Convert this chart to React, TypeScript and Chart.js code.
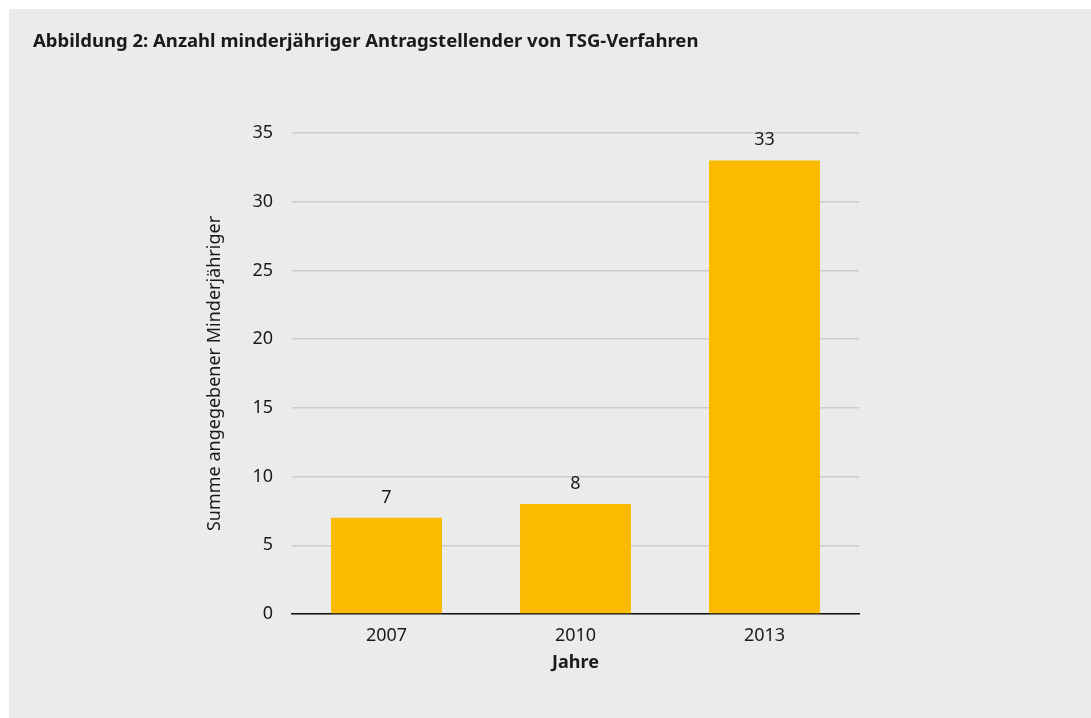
import React, { useEffect, useRef } from "react";
import { Chart, registerables } from "chart.js";

Chart.register(...registerables);

const TITLE = "Abbildung 2: Anzahl minderjähriger Antragstellender von TSG-Verfahren";
const Y_TITLE = "Summe angegebener Minderjähriger";
const X_TITLE = "Jahre";
const categories = ["2007", "2010", "2013"];
const values = [7, 8, 33];
const yMin = 0;
const yMax = 35;
const yStep = 5;

const FONT = "'Noto Sans', 'Open Sans', sans-serif";
const TEXT = "#1a1a1a";
const BAR = "#fbba00";
const GRID = "#cbcbcb";
const BG = "#ebebeb";

const W = 1082;
const H = 709;

const valueLabels = {
  id: "valueLabels",
  afterDatasetsDraw(chart: any) {
    const ctx = chart.ctx;
    const meta = chart.getDatasetMeta(0);
    ctx.save();
    ctx.font = `18px ${FONT}`;
    ctx.fillStyle = TEXT;
    ctx.textAlign = "center";
    ctx.textBaseline = "alphabetic";
    meta.data.forEach((bar: any, i: number) => {
      const v = chart.data.datasets[0].data[i];
      ctx.fillText(String(v), bar.x, bar.y - 15);
    });
    ctx.restore();
  },
};

export default function App() {
  const ref = useRef<HTMLCanvasElement>(null);

  useEffect(() => {
    if (!ref.current) return;
    const chart = new Chart(ref.current, {
      type: "bar",
      data: {
        labels: categories,
        datasets: [
          {
            data: values,
            backgroundColor: BAR,
            borderWidth: 0,
            barPercentage: 0.587,
            categoryPercentage: 1,
          },
        ],
      },
      options: {
        responsive: false,
        animation: false,
        layout: { padding: { left: 24, right: 232, top: 0, bottom: 34 } },
        plugins: {
          legend: { display: false },
          tooltip: { enabled: false },
          title: {
            display: true,
            text: TITLE,
            align: "start",
            color: TEXT,
            font: { family: FONT, size: 18.5, weight: "bold", lineHeight: 1.2 },
            padding: { top: 22, bottom: 79.8 },
          },
        },
        scales: {
          x: {
            afterFit: (s: any) => {
              s.height = 70;
            },
            grid: { display: false, drawTicks: false },
            border: { display: true, color: "#111111", width: 1.5 },
            ticks: {
              color: TEXT,
              font: { family: FONT, size: 18 },
              padding: 11,
            },
            title: {
              display: true,
              text: X_TITLE,
              color: TEXT,
              font: { family: FONT, size: 18, weight: "bold", lineHeight: 1.2 },
              padding: { top: 0, bottom: 10.2 },
            },
          },
          y: {
            min: yMin,
            max: yMax,
            afterFit: (s: any) => {
              s.width = 259;
            },
            grid: { color: GRID, lineWidth: 1.5, drawTicks: false },
            border: { display: false },
            ticks: {
              stepSize: yStep,
              color: TEXT,
              font: { family: FONT, size: 18 },
              padding: 19,
            },
            title: {
              display: true,
              text: Y_TITLE,
              color: TEXT,
              font: { family: FONT, size: 18, lineHeight: 1.2 },
              padding: { top: 171.2, bottom: 0 },
            },
          },
        },
      },
      plugins: [valueLabels],
    });
    return () => chart.destroy();
  }, []);

  return (
    <div
      style={{
        position: "absolute",
        left: 9,
        top: 9,
        width: W,
        height: H,
        background: BG,
      }}
    >
      <canvas ref={ref} width={W} height={H} style={{ display: "block" }} />
    </div>
  );
}
